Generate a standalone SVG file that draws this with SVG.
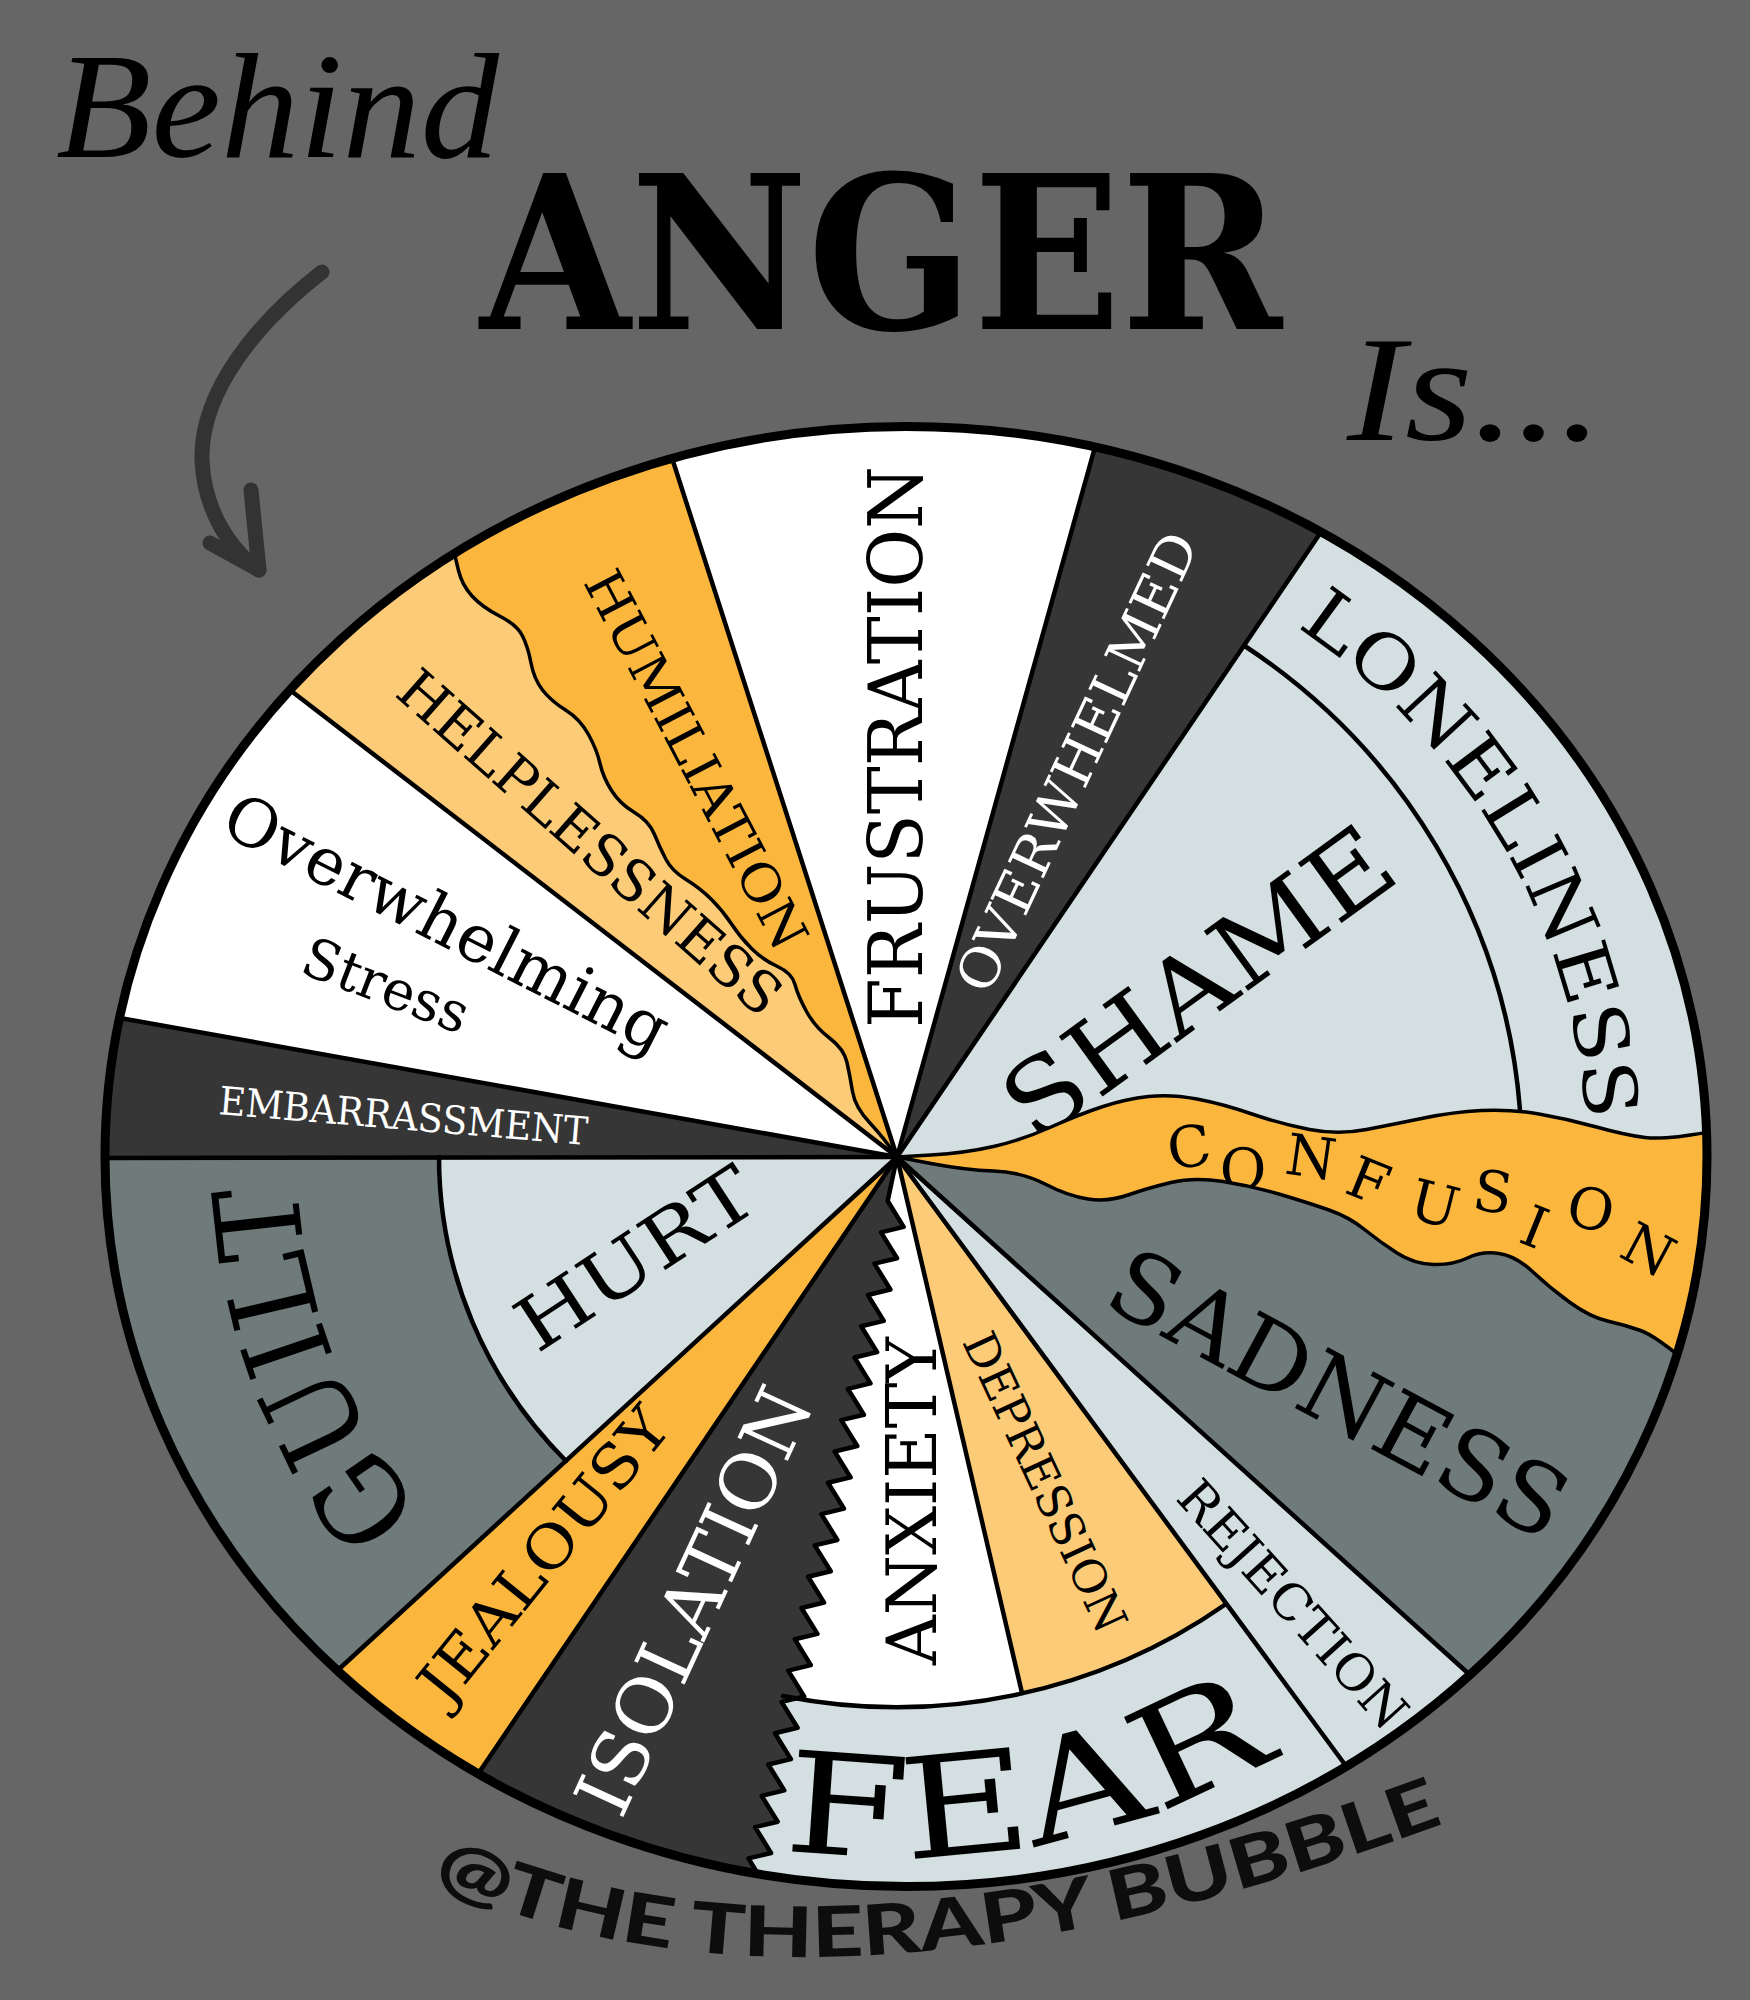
<svg xmlns="http://www.w3.org/2000/svg" width="1750" height="2000" viewBox="0 0 1750 2000">
<defs>
<clipPath id="wheel"><ellipse cx="906" cy="1156.5" rx="801" ry="730"/></clipPath>
<path id="pLone" d="M1188.6,567.9 A690,650 0 0 1 1576.5,1269.9"/>
<path id="pFear" d="M588.5,1791.4 A730,700 0 0 0 1366.2,1693.2"/>
<path id="pGuilt" d="M472.7,1567.1 A600,580 0 0 1 299.3,1106.5"/>
<path id="pSig" d="M432,1880 Q800,2055 1420,1832"/>
</defs>
<style>
.lbl{font-family:"DejaVu Serif",serif;fill:#000}
.wl{font-family:"DejaVu Serif",serif;fill:#fff}
.ln{fill:none;stroke:#000;stroke-width:4.5;stroke-linejoin:round;stroke-linecap:round}
.wv{fill:none;stroke:#000;stroke-width:3.5;stroke-linejoin:round}
.org{fill:#fbb63e}.lor{fill:#fccb77}.drk{fill:#363636}.lbu{fill:#d3dfe0}.slt{fill:#6f7b7b}.wht{fill:#fff}
.script{font-family:"Liberation Serif",serif;font-style:italic;fill:#000}
</style>
<rect width="1750" height="2000" fill="#666666"/>

<g id="title">
<text class="script" x="56" y="157" font-size="150" textLength="443" lengthAdjust="spacingAndGlyphs">Behind</text>
<text x="480" y="329" font-family="DejaVu Serif, serif" font-weight="bold" font-size="214" textLength="802" lengthAdjust="spacingAndGlyphs" fill="#000">ANGER</text>
<text class="script" x="1347" y="440" font-size="150" textLength="256" lengthAdjust="spacingAndGlyphs">Is...</text>
</g>
<g id="arrow" fill="none" stroke="#333" stroke-width="15" stroke-linecap="round" stroke-linejoin="round">
<path d="M322,272 C260,320 200,390 202,460 C204,510 230,550 259,570"/>
<path d="M251,490 L259,570 L210,543"/>
</g>

<g clip-path="url(#wheel)">
<ellipse cx="906" cy="1156.5" rx="801" ry="730" fill="#fff"/>
<g id="frustration">
<polygon class="wht" points="897,1157 447,-241 1293,-263"/>
<text class="lbl" font-size="74" textLength="562" lengthAdjust="spacingAndGlyphs" transform="translate(922,1028) rotate(-90)">FRUSTRATION</text>
</g>
<g id="overwhelmed">
<polygon class="drk" points="897,1157 1293,-263 1745,-93"/>
<text class="wl" font-size="54" text-anchor="middle" textLength="500" lengthAdjust="spacingAndGlyphs" transform="translate(1094,770) rotate(-65)">OVERWHELMED</text>
</g>
<g id="loneliness">
<polygon class="lbu" points="897,1157 1745,-93 2700,-93 2700,2193 2043,2193"/>
<text class="lbl" font-size="74"><textPath href="#pLone" startOffset="123" textLength="593" lengthAdjust="spacingAndGlyphs">LONELINESS</textPath></text>
</g>
<g id="shame">
<path class="lbu" d="M897,1157 L1244,645.5 A625,615 0 0 1 1520,1110 Z"/>
<text class="lbl" font-size="102" text-anchor="middle" textLength="455" lengthAdjust="spacingAndGlyphs" transform="translate(1219,1012) rotate(-36)">SHAME</text>
</g>
<g id="confusion">
<path class="org" d="M897,1157 L931,1155 Q965,1153 993.5,1146.5 Q1022,1140 1051,1127 Q1080,1114 1103,1106.5 Q1126,1099 1148.5,1096.5 Q1171,1094 1197,1099 Q1223,1104 1252,1114 Q1281,1124 1309.5,1129.5 Q1338,1135 1366.5,1129.5 Q1395,1124 1424,1118 Q1453,1112 1481.5,1110.5 Q1510,1109 1539,1114 Q1568,1119 1596.5,1127 Q1625,1135 1645,1137.5 Q1665,1140 1708,1132 L1800,1120 L1800,1400 L1690,1365 Q1656,1336 1640.5,1330.5 Q1625,1325 1607.5,1321 Q1590,1317 1570,1302.5 Q1550,1288 1533,1272 Q1516,1256 1499,1253.5 Q1482,1251 1467.5,1258 Q1453,1265 1433.5,1264.5 Q1414,1264 1397,1253 Q1380,1242 1364.5,1229.5 Q1349,1217 1329,1210 Q1309,1203 1280.5,1194.5 Q1252,1186 1223,1181.5 Q1194,1177 1171,1182.5 Q1148,1188 1128,1195 Q1108,1202 1088,1199 Q1068,1196 1045,1184 Q1022,1172 993.5,1171 Q965,1170 931,1163.5 Z"/>
<g class="lbl" font-size="57" text-anchor="middle">
<text y="21" transform="translate(1189,1146) rotate(-8)">C</text>
<text y="21" transform="translate(1243,1168) rotate(2)">O</text>
<text y="21" transform="translate(1311,1156) rotate(8)">N</text>
<text y="21" transform="translate(1369,1180) rotate(22)">F</text>
<text y="21" transform="translate(1435,1203) rotate(14)">U</text>
<text y="21" transform="translate(1493,1191) rotate(8)">S</text>
<text y="21" transform="translate(1535,1226) rotate(22)">I</text>
<text y="21" transform="translate(1591,1208) rotate(12)">O</text>
<text y="21" transform="translate(1649,1249) rotate(28)">N</text>
</g>
</g>
<g id="sadness">
<path class="slt" d="M897,1157 L931,1163.5 Q965,1170 993.5,1171 Q1022,1172 1045,1184 Q1068,1196 1088,1199 Q1108,1202 1128,1195 Q1148,1188 1171,1182.5 Q1194,1177 1223,1181.5 Q1252,1186 1280.5,1194.5 Q1309,1203 1329,1210 Q1349,1217 1364.5,1229.5 Q1380,1242 1397,1253 Q1414,1264 1433.5,1264.5 Q1453,1265 1467.5,1258 Q1482,1251 1499,1253.5 Q1516,1256 1533,1272 Q1550,1288 1570,1302.5 Q1590,1317 1607.5,1321 Q1625,1325 1640.5,1330.5 Q1656,1336 1690,1365 L1800,1400 L2043,2193 Z"/>
<text class="lbl" font-size="95" text-anchor="middle" textLength="505" lengthAdjust="spacingAndGlyphs" transform="translate(1323,1423) rotate(28.2)">SADNESS</text>
</g>
<g id="rejection">
<polygon class="lbu" points="897,1157 2043,2193 1795,2375"/>
<text class="lbl" font-size="50" text-anchor="middle" textLength="315" lengthAdjust="spacingAndGlyphs" transform="translate(1280,1616) rotate(48)">REJECTION</text>
</g>
<g id="fear">
<polygon class="lbu" points="897,1157 1795,2375 595,2583"/>
<text class="lbl" font-size="140"><textPath href="#pFear" startOffset="203" textLength="514" lengthAdjust="spacingAndGlyphs">FEAR</textPath></text>
</g>
<g id="anxiety">
<path class="wht" d="M897,1157 L783,1696 A565,550 0 0 0 1022,1693 Z"/>
<text class="lbl" font-size="70" textLength="328" lengthAdjust="spacingAndGlyphs" transform="translate(936,1665) rotate(-90)">ANXIETY</text>
</g>
<g id="depression">
<path class="lor" d="M897,1157 L1022,1693 A565,550 0 0 0 1226,1604 Z"/>
<text class="lbl" font-size="46" text-anchor="middle" textLength="325" lengthAdjust="spacingAndGlyphs" transform="translate(1030.5,1489) rotate(65)">DEPRESSION</text>
</g>
<g id="isolation">
<path class="drk" transform="translate(897,1157) rotate(101.96)" d="M0,0 L45,0 L67,-21 L77,0 L99,-21 L109,0 L131,-21 L141,0 L163,-21 L173,0 L195,-21 L205,0 L227,-21 L237,0 L259,-21 L269,0 L291,-21 L301,0 L323,-21 L333,0 L355,-21 L365,0 L387,-21 L397,0 L419,-21 L429,0 L451,-21 L461,0 L483,-21 L493,0 L515,-21 L525,0 L547,-21 L557,0 L579,-21 L589,0 L611,-21 L621,0 L643,-21 L653,0 L675,-21 L685,0 L707,-21 L717,0 L739,-21 L749,0 L771,-21 L781,0 L850,0 L1480,607 Z"/>
<text class="wl" font-size="76" text-anchor="middle" textLength="460" lengthAdjust="spacingAndGlyphs" transform="translate(718,1612) rotate(-65.2)">ISOLATION</text>
</g>
<g id="jealousy">
<polygon class="org" points="897,1157 59,2391 -221,2183"/>
<text class="lbl" font-size="60" text-anchor="middle" textLength="360" lengthAdjust="spacingAndGlyphs" transform="translate(560,1568) rotate(-51)">JEALOUSY</text>
</g>
<g id="guilt">
<polygon class="slt" points="897,1157 -221,2183 -687,1159"/>
<text class="lbl" font-size="118"><textPath href="#pGuilt" startOffset="73" textLength="360" lengthAdjust="spacingAndGlyphs">GUILT</textPath></text>
</g>
<g id="hurt">
<path class="lbu" d="M897,1157 L439,1157 A458,440 0 0 0 566,1461 Z"/>
<text class="lbl" font-size="74" text-anchor="middle" textLength="270" lengthAdjust="spacingAndGlyphs" transform="translate(650,1280) rotate(-33.2)">HURT</text>
</g>
<g id="embarrassment">
<polygon class="drk" points="897,1157 -687,1159 -657,879"/>
<text class="wl" font-size="39" textLength="370" lengthAdjust="spacingAndGlyphs" transform="translate(218,1114) rotate(4.8)">EMBARRASSMENT</text>
</g>
<g id="overwhelming-stress">
<polygon class="wht" points="897,1157 -657,879 -317,223"/>
<text class="lbl" font-size="66" textLength="490" lengthAdjust="spacingAndGlyphs" transform="translate(218,832) rotate(27)">Overwhelming</text>
<text class="lbl" font-size="55" textLength="174" lengthAdjust="spacingAndGlyphs" transform="translate(298,972) rotate(21)">Stress</text>
</g>
<g id="helplessness">
<path class="lor" d="M897,1157 L-317,223 L13,-45 L450,540 L455,556 L458.5,570.5 Q462,585 472,596 Q482,607 499.5,616 Q517,625 522.5,636 Q528,647 531,663 Q534,679 542.5,690 Q551,701 565.5,710 Q580,719 588.5,734.5 Q597,750 600,763.5 Q603,777 611.5,790.5 Q620,804 634.5,812.5 Q649,821 654.5,834.5 Q660,848 666,859.5 Q672,871 686,879.5 Q700,888 711.5,899.5 Q723,911 731.5,924 Q740,937 751.5,948.5 Q763,960 777.5,966.5 Q792,973 795,984.5 Q798,996 806.5,1011.5 Q815,1027 829.5,1038 Q844,1049 847,1062.5 Q850,1076 852.5,1091.5 Q855,1107 869.5,1122.5 Q884,1138 897,1157 Z"/>
<text class="lbl" font-size="56" text-anchor="middle" textLength="490" lengthAdjust="spacingAndGlyphs" transform="translate(577,857) rotate(41.4)">HELPLESSNESS</text>
</g>
<g id="humiliation">
<path class="org" d="M450,540 L455,556 L458.5,570.5 Q462,585 472,596 Q482,607 499.5,616 Q517,625 522.5,636 Q528,647 531,663 Q534,679 542.5,690 Q551,701 565.5,710 Q580,719 588.5,734.5 Q597,750 600,763.5 Q603,777 611.5,790.5 Q620,804 634.5,812.5 Q649,821 654.5,834.5 Q660,848 666,859.5 Q672,871 686,879.5 Q700,888 711.5,899.5 Q723,911 731.5,924 Q740,937 751.5,948.5 Q763,960 777.5,966.5 Q792,973 795,984.5 Q798,996 806.5,1011.5 Q815,1027 829.5,1038 Q844,1049 847,1062.5 Q850,1076 852.5,1091.5 Q855,1107 869.5,1122.5 Q884,1138 897,1157 L447,-241 L13,-45 Z"/>
<text class="lbl" font-size="52" text-anchor="middle" textLength="420" lengthAdjust="spacingAndGlyphs" transform="translate(680,768) rotate(62.4)">HUMILIATION</text>
</g>

<g id="connectors">
<g class="ln">
<path d="M897,1157 L672,458"/>
<path d="M897,1157 L1095,447"/>
<path d="M897,1157 L1321,532"/>
<path d="M897,1157 L1470,1675"/>
<path d="M897,1157 L1346,1766"/>
<path d="M897,1157 L1022,1693"/>
<path d="M897,1157 L478,1774"/>
<path d="M897,1157 L338,1670"/>
<path d="M897,1157 L105,1158"/>
<path d="M897,1157 L120,1018"/>
<path d="M897,1157 L290,690"/>
<path d="M439,1157 A458,440 0 0 0 566,1461"/>
<path d="M783,1696 A565,550 0 0 0 1226,1604"/>
<path d="M1244,645.5 A625,615 0 0 1 1520,1110"/>
<path transform="translate(897,1157) rotate(101.96)" d="M0,0 L45,0 L67,-21 L77,0 L99,-21 L109,0 L131,-21 L141,0 L163,-21 L173,0 L195,-21 L205,0 L227,-21 L237,0 L259,-21 L269,0 L291,-21 L301,0 L323,-21 L333,0 L355,-21 L365,0 L387,-21 L397,0 L419,-21 L429,0 L451,-21 L461,0 L483,-21 L493,0 L515,-21 L525,0 L547,-21 L557,0 L579,-21 L589,0 L611,-21 L621,0 L643,-21 L653,0 L675,-21 L685,0 L707,-21 L717,0 L739,-21 L749,0 L771,-21 L781,0 L850,0"/>
</g>
<g class="wv">
<path d="M450,540 L455,556 L458.5,570.5 Q462,585 472,596 Q482,607 499.5,616 Q517,625 522.5,636 Q528,647 531,663 Q534,679 542.5,690 Q551,701 565.5,710 Q580,719 588.5,734.5 Q597,750 600,763.5 Q603,777 611.5,790.5 Q620,804 634.5,812.5 Q649,821 654.5,834.5 Q660,848 666,859.5 Q672,871 686,879.5 Q700,888 711.5,899.5 Q723,911 731.5,924 Q740,937 751.5,948.5 Q763,960 777.5,966.5 Q792,973 795,984.5 Q798,996 806.5,1011.5 Q815,1027 829.5,1038 Q844,1049 847,1062.5 Q850,1076 852.5,1091.5 Q855,1107 869.5,1122.5 Q884,1138 897,1157"/>
<path d="M897,1157 L931,1155 Q965,1153 993.5,1146.5 Q1022,1140 1051,1127 Q1080,1114 1103,1106.5 Q1126,1099 1148.5,1096.5 Q1171,1094 1197,1099 Q1223,1104 1252,1114 Q1281,1124 1309.5,1129.5 Q1338,1135 1366.5,1129.5 Q1395,1124 1424,1118 Q1453,1112 1481.5,1110.5 Q1510,1109 1539,1114 Q1568,1119 1596.5,1127 Q1625,1135 1645,1137.5 Q1665,1140 1708,1132"/>
<path d="M897,1157 L931,1163.5 Q965,1170 993.5,1171 Q1022,1172 1045,1184 Q1068,1196 1088,1199 Q1108,1202 1128,1195 Q1148,1188 1171,1182.5 Q1194,1177 1223,1181.5 Q1252,1186 1280.5,1194.5 Q1309,1203 1329,1210 Q1349,1217 1364.5,1229.5 Q1380,1242 1397,1253 Q1414,1264 1433.5,1264.5 Q1453,1265 1467.5,1258 Q1482,1251 1499,1253.5 Q1516,1256 1533,1272 Q1550,1288 1570,1302.5 Q1590,1317 1607.5,1321 Q1625,1325 1640.5,1330.5 Q1656,1336 1690,1365"/>
</g>
</g>
</g>
<ellipse id="rim" cx="906" cy="1156.5" rx="801" ry="730" fill="none" stroke="#000" stroke-width="9"/>

<g id="signature">
<text font-family="Lato, sans-serif" font-weight="900" font-size="70" fill="#0d0d0d"><textPath href="#pSig" textLength="1040" lengthAdjust="spacingAndGlyphs">@THE THERAPY BUBBLE</textPath></text>
</g>
</svg>
